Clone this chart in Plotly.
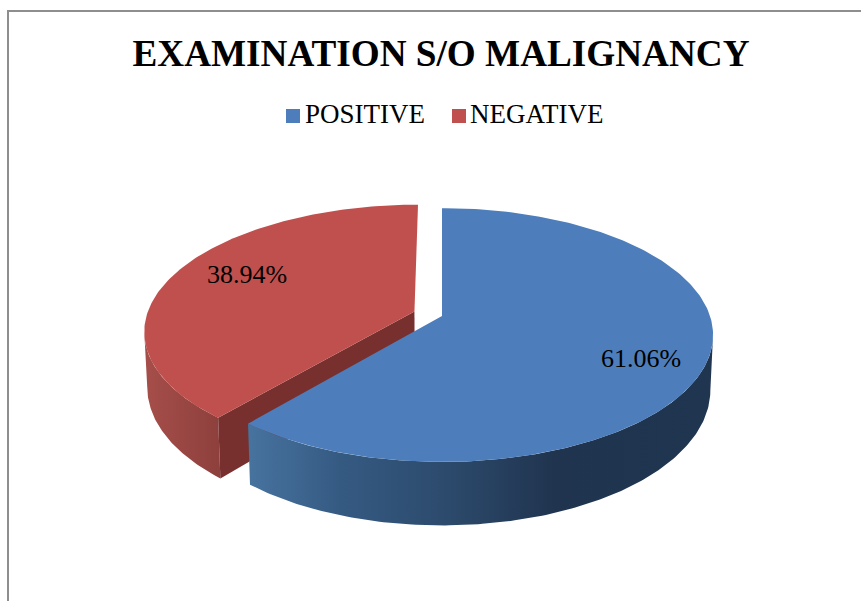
import numpy as np
import plotly.graph_objects as go

categories = ["POSITIVE", "NEGATIVE"]
values = [61.06, 38.94]
title_text = "EXAMINATION S/O MALIGNANCY"

W, H = 861, 601
CX, CY, A, B, K = 442, 316, 268, 124, 0.15
DEPTH, TAPER = 54, 0.99
EXPLODE = 0.11
FONT = "Liberation Serif"
TOP_COLORS = ["#4d7ebb", "#c0504d"]
BLUE_SIDE = [[0, "#47739f"], [0.2, "#355a82"], [0.43, "#2c4a6c"], [0.66, "#20344f"], [1, "#1f3550"]]
RED_SIDE = [[0, "#a64e4a"], [1, "#8e403d"]]
RED_CUT = "#77302e"


def project(theta, r, ex=0.0, ev=0.0, bottom=False):
    """Perspective projection of a pie point; theta runs clockwise from 12 o'clock."""
    X = r * np.sin(theta) + ex
    V = -r * np.cos(theta) + ev
    s = 1 / (1 - K * V)
    if bottom:
        return CX + A * X * s * TAPER, CY + B * V * s + DEPTH * s
    return CX + A * X * s, CY + B * V * s


def poly(fig, x, y, color=None, gradient=None):
    kw = dict(fillgradient=gradient) if gradient else dict(fillcolor=color)
    fig.add_trace(go.Scatter(x=list(x), y=list(y), mode="lines", fill="toself",
                             line=dict(width=0), hoverinfo="skip", showlegend=False, **kw))


total = sum(values)
split = 2 * np.pi * values[0] / total
mid = (split + 2 * np.pi) / 2
ex, ev = EXPLODE * np.sin(mid), -EXPLODE * np.cos(mid)

fig = go.Figure()

# exploded red slice: outer side (from the cut corner to the left silhouette point), cut face, top
scan = np.linspace(split, 2 * np.pi, 400)
left_theta = scan[np.argmin(project(scan, 1, ex, ev)[0])]
th = np.linspace(split, left_theta, 80)
tx, ty = project(th, 1, ex, ev)
bx, by = project(th, 1, ex, ev, bottom=True)
poly(fig, np.r_[tx, bx[::-1]], np.r_[ty, by[::-1]],
     gradient=dict(type="horizontal", colorscale=RED_SIDE, start=float(tx.min()), stop=float(tx[0])))

c_tx, c_ty = project(split, 1, ex, ev)
c_bx, c_by = project(split, 1, ex, ev, bottom=True)
t_tx, t_ty = project(0, 0, ex, ev)
t_bx, t_by = project(0, 0, ex, ev, bottom=True)
poly(fig, [t_tx, c_tx, c_bx, t_bx], [t_ty, c_ty, c_by, t_by], color=RED_CUT)

th = np.linspace(split, 2 * np.pi, 160)
tx, ty = project(th, 1, ex, ev)
poly(fig, np.r_[t_tx, tx], np.r_[t_ty, ty], color=TOP_COLORS[1])

# blue slice: side (from the right silhouette point to the cut corner), top
scan = np.linspace(0, split, 400)
right_theta = scan[np.argmax(project(scan, 1)[0])]
th = np.linspace(right_theta, split, 160)
tx, ty = project(th, 1)
bx, by = project(th, 1, bottom=True)
poly(fig, np.r_[tx, bx[::-1]], np.r_[ty, by[::-1]],
     gradient=dict(type="horizontal", colorscale=BLUE_SIDE, start=float(tx[-1]), stop=float(tx.max())))

th = np.linspace(0, split, 220)
tx, ty = project(th, 1)
poly(fig, np.r_[CX, tx], np.r_[CY, ty], color=TOP_COLORS[0])

# percentage labels
fig.add_trace(go.Scatter(
    x=[641, 247], y=[360, 276], mode="text",
    text=[f"{v:.2f}%" for v in values],
    textfont=dict(family=FONT, size=26, color="black"),
    hoverinfo="skip", showlegend=False))

# legend row
fig.add_trace(go.Scatter(
    x=[293, 459], y=[116, 116], mode="markers",
    marker=dict(symbol="square", size=14, color=TOP_COLORS, line=dict(width=0)),
    hoverinfo="skip", showlegend=False))
fig.add_trace(go.Scatter(
    x=[305, 470], y=[116, 116], mode="text",
    text=categories, textposition="middle right",
    textfont=dict(family=FONT, size=27, color="black"),
    hoverinfo="skip", showlegend=False))

fig.update_layout(
    width=W, height=H, margin=dict(l=0, r=0, t=0, b=0),
    paper_bgcolor="white", plot_bgcolor="white", showlegend=False,
    title=dict(text=f"<b>{title_text}</b>", x=441 / W, xanchor="center", y=1 - 53 / H, yanchor="middle",
               font=dict(family=FONT, size=37.2, color="black")),
    xaxis=dict(range=[0, W], visible=False, fixedrange=True),
    yaxis=dict(range=[H, 0], visible=False, fixedrange=True),
    shapes=[dict(type="line", xref="paper", yref="paper", x0=8 / W, x1=8 / W, y0=0, y1=1 - 10 / H,
                 line=dict(color="#8e8e8e", width=2)),
            dict(type="line", xref="paper", yref="paper", x0=8 / W, x1=1, y0=1 - 11 / H, y1=1 - 11 / H,
                 line=dict(color="#8e8e8e", width=2))],
)
fig.write_html("out.html", config=dict(displayModeBar=False),
               post_script="document.body.style.margin='0';document.documentElement.style.overflow='hidden';")
